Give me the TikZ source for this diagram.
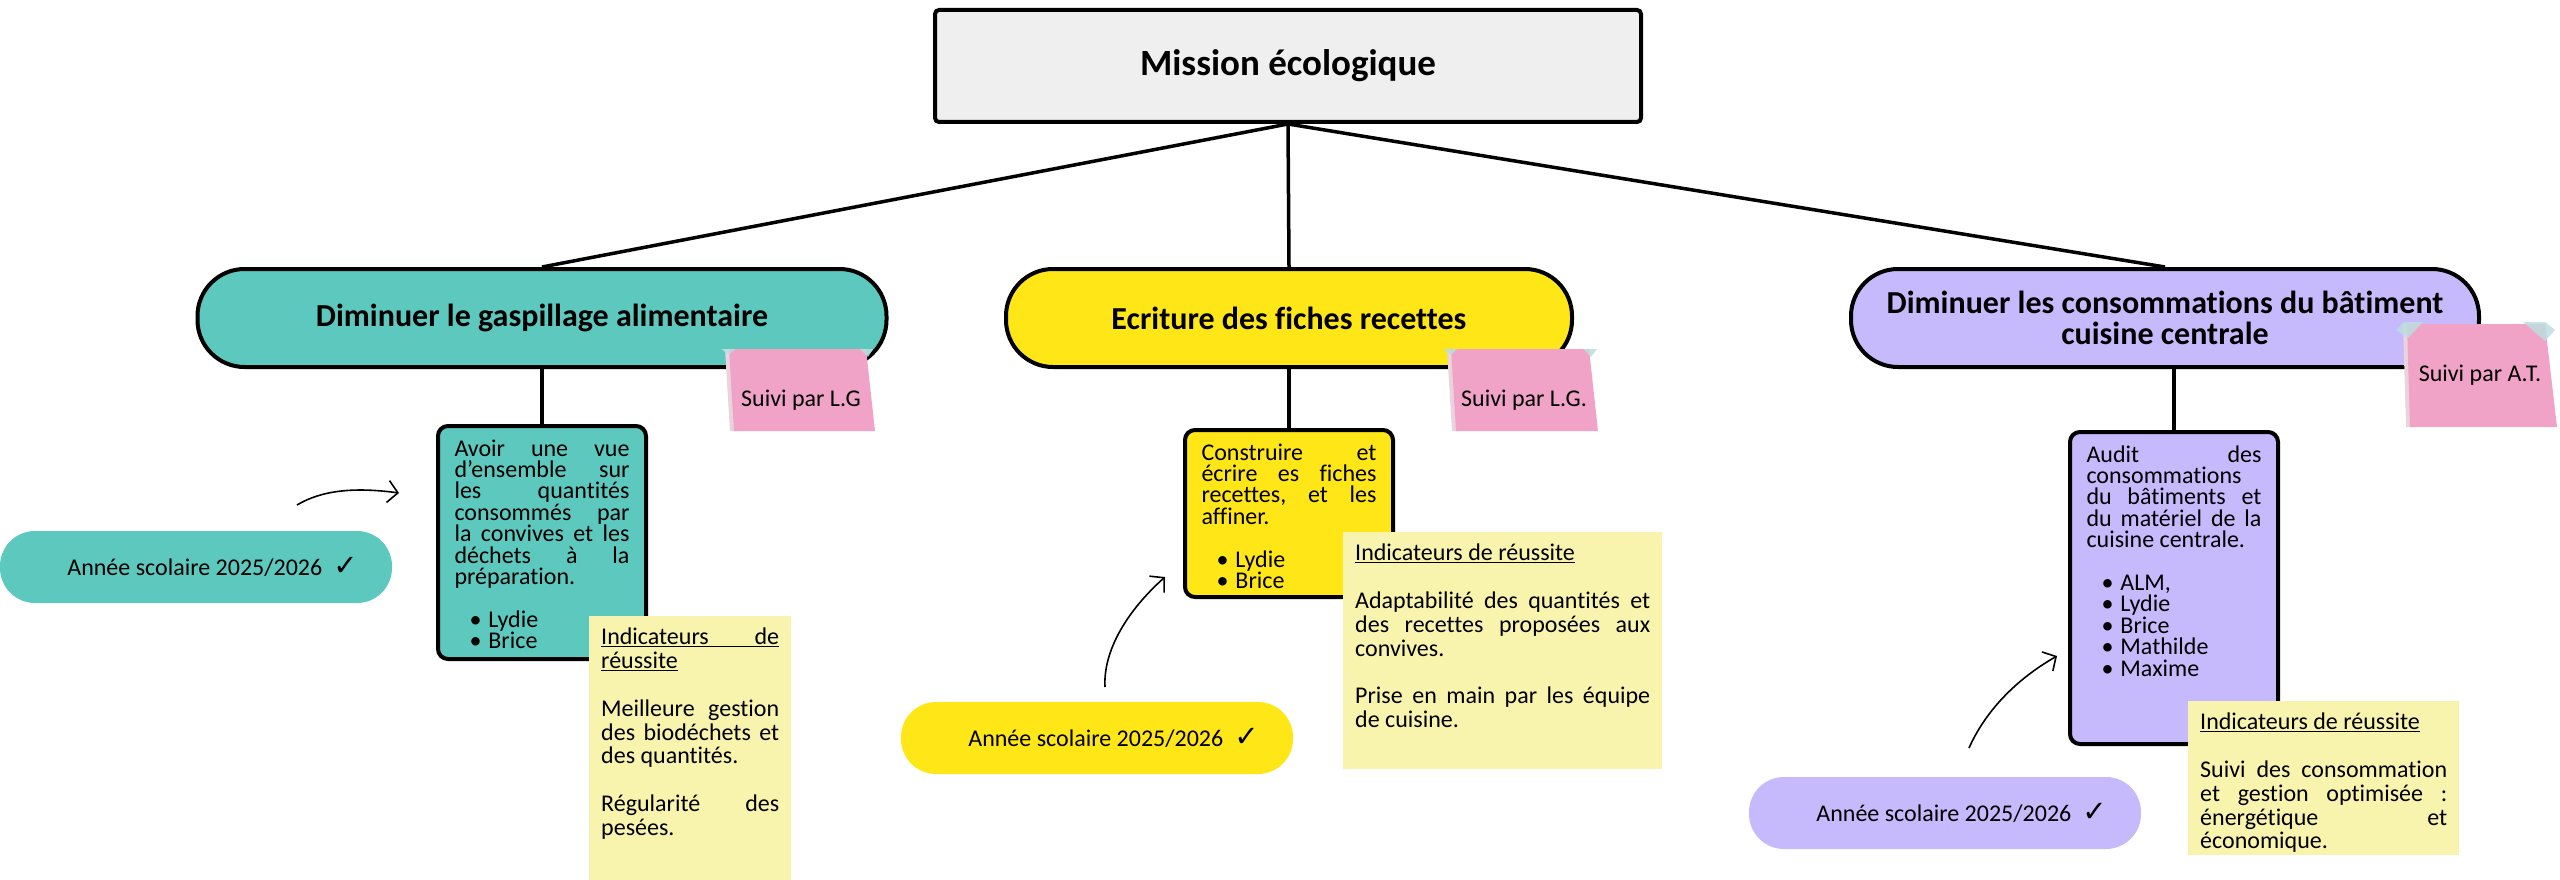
\documentclass[tikz,border=0pt]{standalone}
\usepackage{fontspec}
\setmainfont{Carlito}[Ligatures=NoCommon]
\newfontfamily\symfont{DejaVu Sans Bold}
\usetikzlibrary{arrows.meta}
\definecolor{cteal}{HTML}{5DC8BE}
\definecolor{cyellow}{HTML}{FFE617}
\definecolor{cpurple}{HTML}{C6BAFC}
\definecolor{cnote}{HTML}{F8F3AD}
\definecolor{cpink}{HTML}{F0A3C6}
\definecolor{cpinksh}{HTML}{E9D3DD}
\definecolor{ctape}{HTML}{BCDDDF}
\definecolor{ctop}{HTML}{EFEFEF}
\newcommand\jl[1]{\makebox[\linewidth][s]{#1}}
\newcommand\bul[1]{\hspace*{15pt}•\hspace{7pt}#1}
\newcommand\chk{\hspace{11pt}{\symfont\fontsize{29}{29}\selectfont ✓}}
\hbadness=10000 \hfuzz=5pt
\begin{document}
\begin{tikzpicture}[x=1pt,y=-1pt,
  conn/.style={line width=3.5pt, black},
  goal/.style={draw=black, line width=4pt, rounded corners=47pt, minimum height=98pt,
    font={\fontsize{32}{31}\selectfont\bfseries}, align=center},
  detail/.style={draw=black, line width=4pt, rounded corners=10pt, inner xsep=16.5pt,
    inner ysep=12pt, anchor=north, font={\fontsize{24}{21.4}\selectfont\lineskiplimit=-100pt\frenchspacing}},
  note/.style={fill=cnote, inner xsep=12pt, inner ysep=12pt, anchor=north west,
    font={\fontsize{24}{23.8}\selectfont\lineskiplimit=-100pt\frenchspacing}},
  year/.style={rounded corners=35pt, minimum height=72pt, minimum width=392pt, inner sep=0pt,
    font={\fontsize{24}{28}\selectfont}},
  suivi/.style={font={\fontsize{24}{28}\selectfont}, anchor=base, inner sep=0pt},
  hand/.style={line width=1.6pt, -{Straight Barb[length=10pt,width=22pt,line width=1.6pt]}}
]
\useasboundingbox (0,0) rectangle (2560,880);

% top
\node[draw, line width=4pt, fill=ctop, rounded corners=4pt, minimum width=706pt, minimum height=112pt,
  font={\fontsize{37}{40}\selectfont\bfseries}] (mission) at (1288,66) {Mission écologique};

% goals
\node[goal, fill=cteal, minimum width=689pt] (g1) at (542,318) {Diminuer le gaspillage alimentaire};
\node[goal, fill=cyellow, minimum width=566pt] (g2) at (1289,318) {Ecriture des fiches recettes};
\node[goal, fill=cpurple, minimum width=628pt] (g3) at (2165,318) {Diminuer les consommations du bâtiment\\cuisine centrale};

\draw[conn] (mission.south) -- (g1.north);
\draw[conn] (mission.south) -- (g2.north);
\draw[conn] (mission.south) -- (g3.north);

% detail boxes
\node[detail, fill=cteal] (d1) at (542,424) {\parbox[c][209pt][t]{175pt}{\rule{0pt}{18pt}\jl{Avoir une vue}\\
\jl{d’ensemble sur}\\ \jl{les quantités}\\ \jl{consommés par}\\ \jl{la convives et les}\\ \jl{déchets à la}\\ préparation.\\[21.4pt]
\bul{Lydie}\\ \bul{Brice}}};
\node[detail, fill=cyellow] (d2) at (1289,428) {\parbox[c][143pt][t]{175pt}{\rule{0pt}{18pt}\jl{Construire et}\\
\jl{écrire es fiches}\\ \jl{recettes, et les}\\ affiner.\\[21.4pt]
\bul{Lydie}\\ \bul{Brice}}};
\node[detail, fill=cpurple] (d3) at (2174,430) {\parbox[c][288pt][t]{175pt}{\rule{0pt}{18pt}\jl{Audit des}\\
consommations\\ \jl{du bâtiments et}\\ \jl{du matériel de la}\\ cuisine centrale.\\[21.4pt]
\bul{ALM,}\\ \bul{Lydie}\\ \bul{Brice}\\ \bul{Mathilde}\\ \bul{Maxime}}};

\draw[conn] (g1.south) -- (d1.north);
\draw[conn] (g2.south) -- (d2.north);
\draw[conn] (d3.north) -- (d3.north |- g3.south);

% sticky notes "Suivi par"
\fill[cpinksh] (725,349) -- (733,349) -- (738,431) -- (730,431) -- cycle;
\fill[cpink] (729,349) -- (866,349) -- (875,431) -- (734,431) -- cycle;
\fill[ctape, opacity=.85] (721,349) -- (735,349) -- (729,355) -- cycle;
\fill[ctape, opacity=.85] (860,349) -- (873,349) -- (868,357) -- cycle;
\node[suivi] (s1) at (801,406) {Suivi par L.G};

\fill[cpinksh] (1447,349) -- (1455,349) -- (1460,431) -- (1452,431) -- cycle;
\fill[cpink] (1451,349) -- (1589,349) -- (1598,431) -- (1456,431) -- cycle;
\fill[ctape, opacity=.85] (1443,349) -- (1457,349) -- (1451,355) -- cycle;
\fill[ctape, opacity=.85] (1583,349) -- (1597,349) -- (1591,357) -- cycle;
\node[suivi] (s2) at (1524,406) {Suivi par L.G.};

\fill[cpinksh] (2403,324) -- (2411,324) -- (2414,427) -- (2406,427) -- cycle;
\fill[cpink] (2407,324) -- (2545,324) -- (2557,427) -- (2410,427) -- cycle;
\fill[ctape, opacity=.85] (2396,330) -- (2404,322) -- (2423,322) -- (2408,338) -- cycle;
\fill[ctape, opacity=.85] (2523,322) -- (2545,322) -- (2555,330) -- (2545,341) -- cycle;
\node[suivi] (s3) at (2480,381) {Suivi par A.T.};

% indicator notes
\node[note] (n1) at (589,616) {\parbox[c][245pt][t]{178pt}{\rule{0pt}{16pt}\underline{\jl{Indicateurs de}}\\
\underline{réussite}\\[23.8pt] \jl{Meilleure gestion}\\ \jl{des biodéchets et}\\ des quantités.\\[23.8pt]
\jl{Régularité des}\\ pesées.}};
\node[note] (n2) at (1343,532) {\parbox[c][213pt][t]{295pt}{\rule{0pt}{16pt}\underline{Indicateurs de réussite}\\[23.8pt]
\jl{Adaptabilité des quantités et}\\ \jl{des recettes proposées aux}\\ convives.\\[23.8pt]
\jl{Prise en main par les équipe}\\ de cuisine.}};
\node[note] (n3) at (2188,701) {\parbox[c][130pt][t]{247pt}{\rule{0pt}{16pt}\underline{Indicateurs de réussite}\\[23.8pt]
\jl{Suivi des consommation}\\ \jl{et gestion optimisée :}\\ \jl{énergétique et}\\ économique.}};

% year pills
\node[year, fill=cteal] (y1) at (196,567) {\hspace*{33pt}Année scolaire 2025/2026\chk};
\node[year, fill=cyellow] (y2) at (1097,738) {\hspace*{33pt}Année scolaire 2025/2026\chk};
\node[year, fill=cpurple] (y3) at (1945,813) {\hspace*{33pt}Année scolaire 2025/2026\chk};

% hand-drawn arrows
\coordinate (a1s) at (297,505); \coordinate (a1e) at (399,493);
\draw[hand] (a1s) .. controls (322,490) and (355,487) .. (a1e);
\coordinate (a2s) at (1105,687); \coordinate (a2e) at (1165,577);
\draw[hand] (a2s) .. controls (1103,650) and (1128,610) .. (a2e);
\coordinate (a3s) at (1969,748); \coordinate (a3e) at (2057,656);
\draw[hand] (a3s) .. controls (1985,712) and (2015,680) .. (a3e);
\end{tikzpicture}
\end{document}
